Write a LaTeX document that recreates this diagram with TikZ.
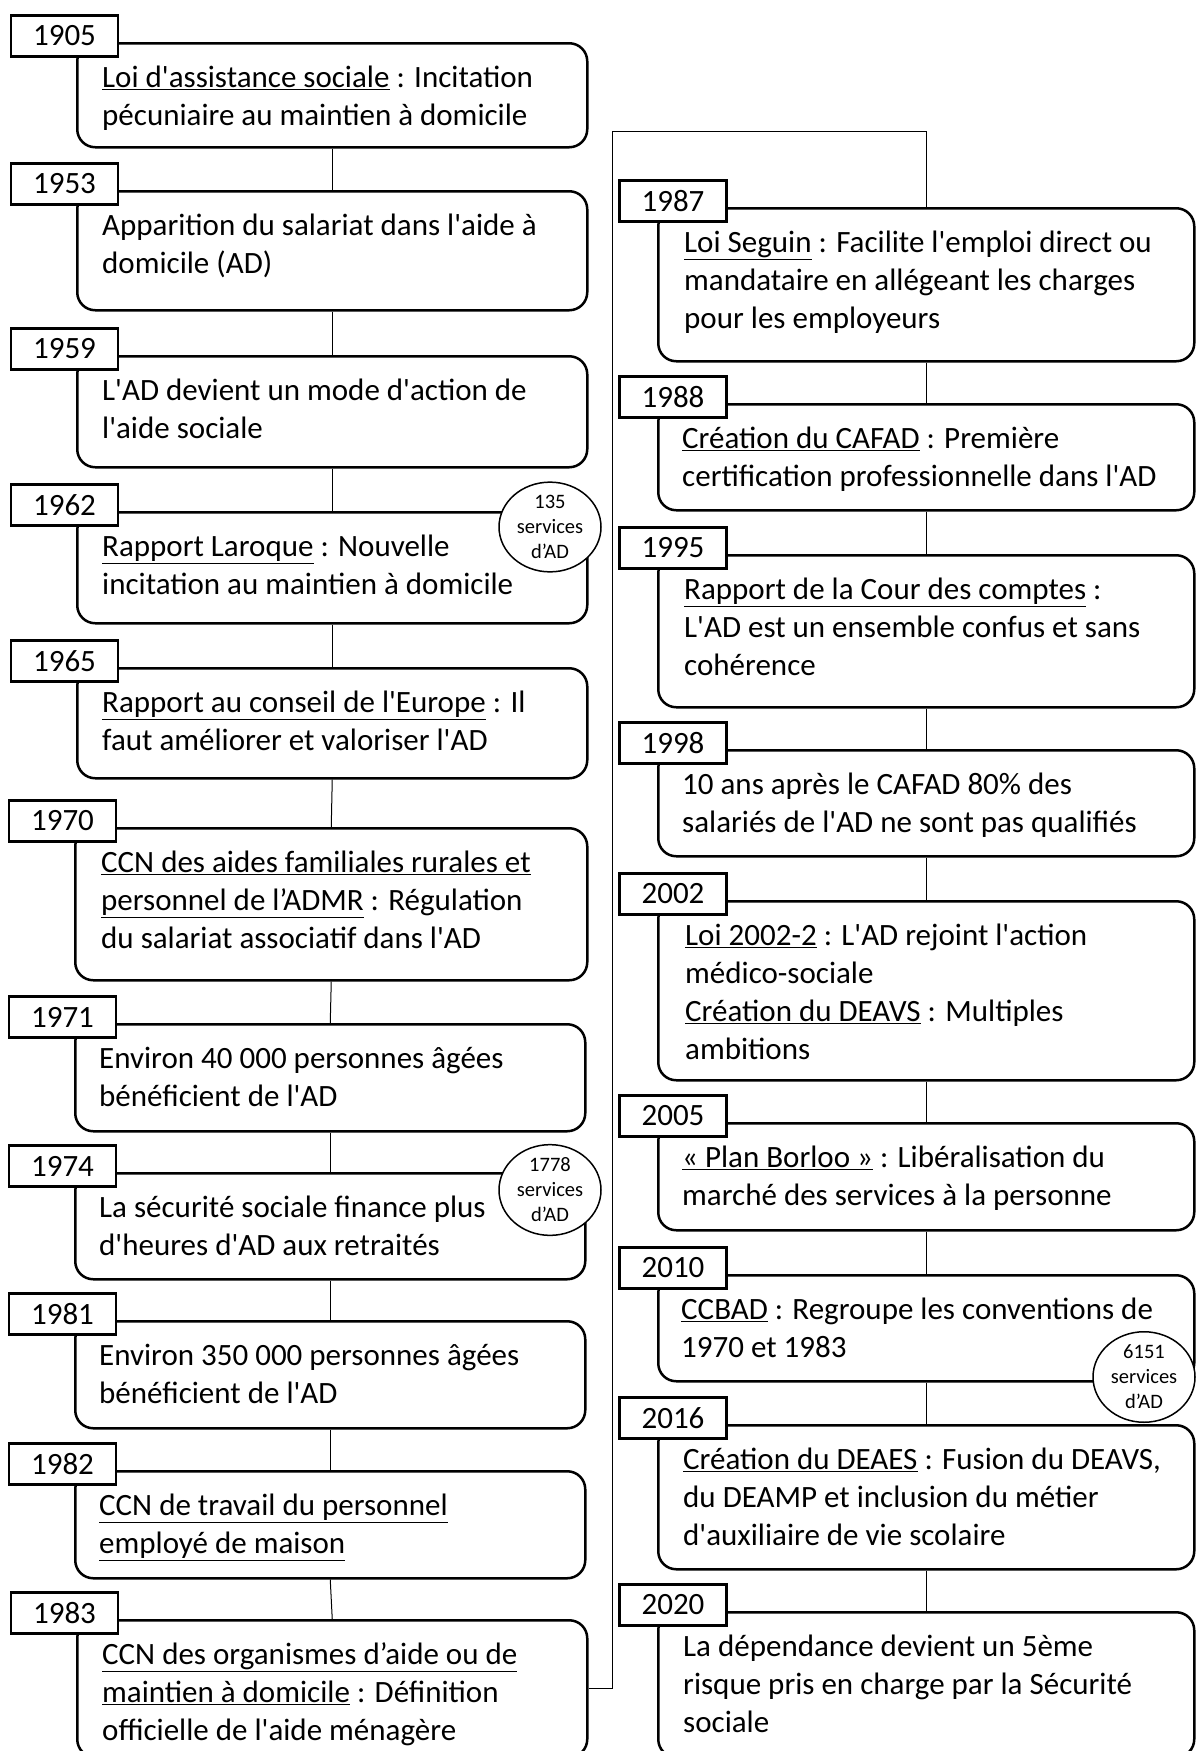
\documentclass[tikz,border=0pt]{standalone}
\usepackage{fontspec}
\setmainfont{Carlito}[Ligatures=TeXOff]
\usepackage{tikz}
\usetikzlibrary{shapes.geometric}
\usetikzlibrary{positioning}

\tikzset{
  event/.style={draw,line width=2.5pt,rounded corners=18pt,anchor=north west,inner sep=0pt},
  evtext/.style={anchor=north west,inner sep=0pt,align=left,font=\fontsize{31}{38}\selectfont},
  yearbox/.style={draw,line width=2.5pt,fill=white,minimum width=107pt,minimum height=41pt,inner sep=0pt,font=\fontsize{31}{38}\selectfont},
  count/.style={ellipse,draw,line width=1.5pt,fill=white,minimum width=102pt,minimum height=77pt,inner sep=0pt,align=center,font=\fontsize{20.5}{25}\selectfont},
  link/.style={line width=1pt}
}

\begin{document}
\begin{tikzpicture}[x=1pt,y=-1pt]
  \useasboundingbox (0,0) rectangle (1196,1751);

  \node[event,minimum width=510pt,minimum height=104pt](b1905) at (76,42){};
  \node[event,minimum width=510pt,minimum height=119pt](b1953) at (76,190){};
  \node[event,minimum width=510pt,minimum height=111pt](b1959) at (76,355){};
  \node[event,minimum width=510pt,minimum height=111pt](b1962) at (76,511){};
  \node[event,minimum width=510pt,minimum height=110pt](b1965) at (76,667){};
  \node[event,minimum width=512pt,minimum height=152pt](b1970) at (74,827){};
  \node[event,minimum width=510pt,minimum height=107pt](b1971) at (74,1023){};
  \node[event,minimum width=510pt,minimum height=106pt](b1974) at (74,1172){};
  \node[event,minimum width=510pt,minimum height=107pt](b1981) at (74,1320){};
  \node[event,minimum width=510pt,minimum height=107pt](b1982) at (74,1470){};
  \node[event,minimum width=510pt,minimum height=137pt](b1983) at (76,1619){};

  \node[event,minimum width=536pt,minimum height=153pt](b1987) at (657,207){};
  \node[event,minimum width=536pt,minimum height=106pt](b1988) at (657,403){};
  \node[event,minimum width=536pt,minimum height=152pt](b1995) at (657,554){};
  \node[event,minimum width=536pt,minimum height=106pt](b1998) at (657,749){};
  \node[event,minimum width=536pt,minimum height=179pt](b2002) at (657,900){};
  \node[event,minimum width=536pt,minimum height=107pt](b2005) at (657,1122){};
  \node[event,minimum width=536pt,minimum height=106pt](b2010) at (657,1274){};
  \node[event,minimum width=536pt,minimum height=144pt](b2016) at (657,1424){};
  \node[event,minimum width=536pt,minimum height=145pt](b2020) at (657,1611){};

  \node[evtext](t1905) at (102,61){\strut\underline{Loi d'assistance sociale} : Incitation\\pécuniaire au maintien à domicile};
  \node[evtext](t1953) at (102,209){\strut Apparition du salariat dans l'aide à\\domicile (AD)};
  \node[evtext](t1959) at (102,374){\strut L'AD devient un mode d'action de\\l'aide sociale};
  \node[evtext](t1962) at (102,530){\strut\underline{Rapport Laroque} : Nouvelle\\incitation au maintien à domicile};
  \node[evtext](t1965) at (102,686){\strut\underline{Rapport au conseil de l'Europe} : Il\\faut améliorer et valoriser l'AD};
  \node[evtext](t1970) at (101,846){\strut\underline{CCN des aides familiales rurales et}\\\underline{personnel de l’ADMR} : Régulation\\du salariat associatif dans l'AD};
  \node[evtext](t1971) at (99,1042){\strut Environ 40 000 personnes âgées\\bénéficient de l'AD};
  \node[evtext](t1974) at (99,1191){\strut La sécurité sociale finance plus\\d'heures d'AD aux retraités};
  \node[evtext](t1981) at (99,1339){\strut Environ 350 000 personnes âgées\\bénéficient de l'AD};
  \node[evtext](t1982) at (99,1489){\strut\underline{CCN de travail du personnel}\\\underline{employé de maison}};
  \node[evtext](t1983) at (102,1638){\strut\underline{CCN des organismes d’aide ou de}\\\underline{maintien à domicile} : Définition\\officielle de l'aide ménagère};

  \node[evtext](t1987) at (684,226){\strut\underline{Loi Seguin} : Facilite l'emploi direct ou\\mandataire en allégeant les charges\\pour les employeurs};
  \node[evtext](t1988) at (682,422){\strut\underline{Création du CAFAD} : Première\\certification professionnelle dans l'AD};
  \node[evtext](t1995) at (684,573){\strut\underline{Rapport de la Cour des comptes} :\\L'AD est un ensemble confus et sans\\cohérence};
  \node[evtext](t1998) at (682,768){\strut 10 ans après le CAFAD 80\% des\\salariés de l'AD ne sont pas qualifiés};
  \node[evtext](t2002) at (685,919){\strut\underline{Loi 2002-2} : L'AD rejoint l'action\\médico-sociale\\\underline{Création du DEAVS} : Multiples\\ambitions};
  \node[evtext](t2005) at (682,1141){\strut\underline{« Plan Borloo »} : Libéralisation du\\marché des services à la personne};
  \node[evtext](t2010) at (681,1293){\strut\underline{CCBAD} : Regroupe les conventions de\\1970 et 1983};
  \node[evtext](t2016) at (683,1443){\strut\underline{Création du DEAES} : Fusion du DEAVS,\\du DEAMP et inclusion du métier\\d'auxiliaire de vie scolaire};
  \node[evtext](t2020) at (683,1630){\strut La dépendance devient un 5ème\\risque pris en charge par la Sécurité\\sociale};

  \draw[link](b1905.south)--(b1953.north);
  \draw[link](b1953.south)--(b1959.north);
  \draw[link](b1959.south)--(b1962.north);
  \draw[link](b1962.south)--(b1965.north);
  \draw[link](b1965.south)--(b1970.north);
  \draw[link](b1970.south)--(b1971.north);
  \draw[link](b1971.south)--(b1974.north);
  \draw[link](b1974.south)--(b1981.north);
  \draw[link](b1981.south)--(b1982.north);
  \draw[link](b1982.south)--(b1983.north);
  \coordinate (turn) at (612,131);
  \draw[link](b1983.east)-|(turn)-|(b1987.north);
  \draw[link](b1987.south)--(b1988.north);
  \draw[link](b1988.south)--(b1995.north);
  \draw[link](b1995.south)--(b1998.north);
  \draw[link](b1998.south)--(b2002.north);
  \draw[link](b2002.south)--(b2005.north);
  \draw[link](b2005.south)--(b2010.north);
  \draw[link](b2010.south)--(b2016.north);
  \draw[link](b2016.south)--(b2020.north);

  \node[yearbox](y1905) at (64.5,36){1905};
  \node[yearbox](y1953) at (64.5,184){1953};
  \node[yearbox](y1959) at (64.5,349){1959};
  \node[yearbox](y1962) at (64.5,505){1962};
  \node[yearbox](y1965) at (64.5,661){1965};
  \node[yearbox](y1970) at (62.5,821){1970};
  \node[yearbox](y1971) at (62.5,1017){1971};
  \node[yearbox](y1974) at (62.5,1166){1974};
  \node[yearbox](y1981) at (62.5,1314){1981};
  \node[yearbox](y1982) at (62.5,1464){1982};
  \node[yearbox](y1983) at (64.5,1613){1983};

  \node[yearbox](y1987) at (673,201){1987};
  \node[yearbox](y1988) at (673,397){1988};
  \node[yearbox](y1995) at (673,548){1995};
  \node[yearbox](y1998) at (673,743){1998};
  \node[yearbox](y2002) at (673,894){2002};
  \node[yearbox](y2005) at (673,1116){2005};
  \node[yearbox](y2010) at (673,1268){2010};
  \node[yearbox](y2016) at (673,1418){2016};
  \node[yearbox](y2020) at (673,1605){2020};

  \node[count](n1962) at (550,527){135\\services\\d’AD};
  \node[count](n1974) at (550,1190){1778\\services\\d’AD};
  \node[count](n2010) at (1144,1377){6151\\services\\d’AD};
\end{tikzpicture}
\end{document}
